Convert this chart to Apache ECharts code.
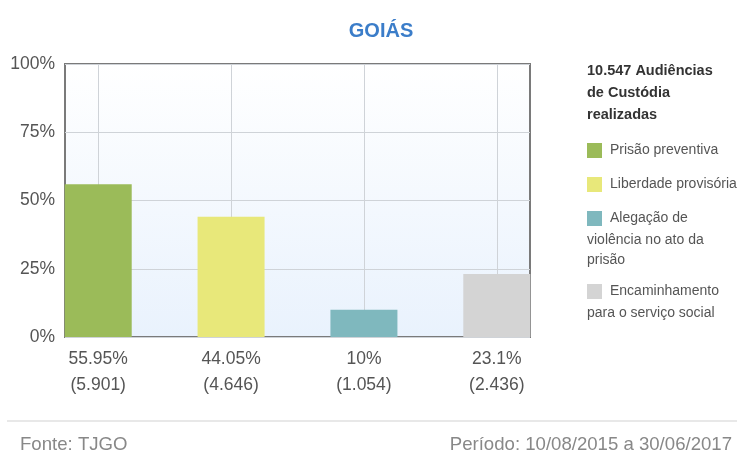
<!DOCTYPE html>
<html>
<head>
<meta charset="utf-8">
<script src="https://cdn.jsdelivr.net/npm/echarts@6/dist/echarts.min.js"></script>
<style>
html, body { margin: 0; padding: 0; background: #fff; }
#chart { width: 737px; height: 453px; }
</style>
</head>
<body>
<div id="chart"></div>
<script>
// data
const categories = ['Prisão preventiva', 'Liberdade provisória', 'Alegação de violência no ato da prisão', 'Encaminhamento para o serviço social']
const percents = [55.95, 44.05, 10, 23.1]
const counts = ['5.901', '4.646', '1.054', '2.436']
const colors = ['#9bbb59', '#e8e87a', '#7fb8be', '#d4d4d4']
const yTicks = [0, 25, 50, 75, 100]
const totalText = '10.547 Audiências\nde Custódia\nrealizadas'
// legend lines: first line sits beside the swatch, the rest wrap under it
const legendLines = [
    ['Prisão preventiva'],
    ['Liberdade provisória'],
    ['Alegação de', 'violência no ato da\nprisão'],
    ['Encaminhamento', 'para o serviço social']
]
const legendTops = [143, 177, 211, 284]

const font = 'Arial, "Liberation Sans", sans-serif'
const chart = echarts.init(document.getElementById('chart'))

let barData = percents.map(function (v, i) {
    return {
        value: [i, v],
        itemStyle: { color: colors[i] },
        label: { formatter: v + '%\n(' + counts[i] + ')' }
    }
})

let graphics = []
graphics.push({
    type: 'text', left: 587, top: 60,
    style: { text: totalText, font: 'bold 14.5px ' + font, fill: '#333', lineHeight: 22 }
})
for (let i = 0; i < legendLines.length; i++) {
    let top = legendTops[i]
    graphics.push({
        type: 'rect', left: 587, top: top,
        shape: { width: 15, height: 15 },
        style: { fill: colors[i] }
    })
    graphics.push({
        type: 'text', left: 610, top: top,
        style: { text: legendLines[i][0], font: '14px ' + font, fill: '#555' }
    })
    if (legendLines[i][1]) {
        graphics.push({
            type: 'text', left: 587, top: top + 19,
            style: { text: legendLines[i][1], font: '14px ' + font, fill: '#555', lineHeight: 20 }
        })
    }
}
// footer
graphics.push({
    type: 'rect', left: 7, top: 420,
    shape: { width: 730, height: 2 },
    style: { fill: '#e8e8e8' }
})
graphics.push({
    type: 'text', left: 20, top: 435,
    style: { text: 'Fonte: TJGO', font: '18.6px ' + font, fill: '#888' }
})
graphics.push({
    type: 'text', right: 5, top: 435,
    style: { text: 'Período: 10/08/2015 a 30/06/2017', font: '18.6px ' + font, fill: '#888' }
})

chart.setOption({
    animation: false,
    title: {
        text: 'GOIÁS',
        left: 376,
        top: 16,
        textAlign: 'center',
        textStyle: { color: '#3b7dc9', fontSize: 20, fontWeight: 'bold', fontFamily: font }
    },
    grid: {
        show: true,
        left: 65,
        right: 207,
        top: 64,
        bottom: 116,
        borderColor: '#7a7a7a',
        borderWidth: 2,
        backgroundColor: {
            type: 'linear', x: 0, y: 0, x2: 0, y2: 1,
            colorStops: [{ offset: 0, color: '#ffffff' }, { offset: 1, color: '#e9f2fd' }]
        }
    },
    xAxis: {
        type: 'value',
        min: -0.25,
        max: 3.25,
        axisLine: { show: false },
        axisTick: { show: false },
        axisLabel: { show: false },
        splitLine: { show: false }
    },
    yAxis: {
        type: 'value',
        min: yTicks[0],
        max: yTicks[yTicks.length - 1],
        interval: 25,
        axisLine: { show: false },
        axisTick: { show: false },
        axisLabel: {
            formatter: '{value}%', color: '#555', fontSize: 17.5, fontFamily: font, margin: 10
        },
        splitLine: { lineStyle: { color: '#cfd3d8', width: 1 } }
    },
    series: [{
        type: 'bar',
        barWidth: 67,
        data: barData,
        label: {
            show: true,
            position: 'bottom',
            distance: 9,
            color: '#555',
            fontSize: 17.5,
            fontFamily: font,
            lineHeight: 26
        },
        markLine: {
            silent: true,
            symbol: 'none',
            label: { show: false },
            lineStyle: { color: '#cfd3d8', type: 'solid', width: 1 },
            z: 1,
            data: categories.map(function (c, i) { return { xAxis: i } })
        },
        z: 2
    }],
    graphic: graphics
})
</script>
</body>
</html>
